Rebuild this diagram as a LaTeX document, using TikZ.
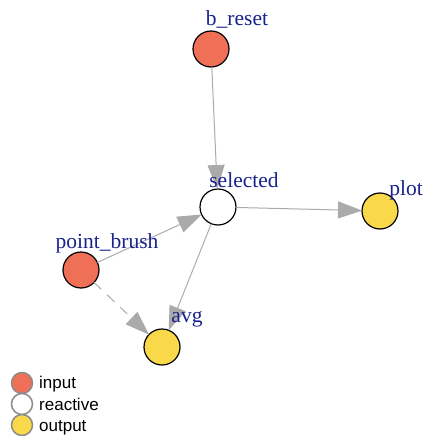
\documentclass[tikz,border=0pt]{standalone}
\usepackage{fontspec}
\setmainfont{Liberation Serif}
\setsansfont{Liberation Sans}
\usetikzlibrary{arrows.meta, positioning}
\definecolor{InputRed}{HTML}{EF6F57}
\definecolor{OutputGold}{HTML}{F9D84A}
\definecolor{LabelBlue}{RGB}{24, 34, 140}
\definecolor{EdgeGray}{HTML}{AAAAAA}

\begin{document}
\begin{tikzpicture}[x=1pt, y=-1pt,
    vtx/.style={circle, draw=black, line width=1.2pt, minimum size=36pt, inner sep=0pt, outer sep=0pt},
    lbl/.style={anchor=base, font=\fontsize{21.5}{21.5}\selectfont, text=LabelBlue, inner sep=0pt},
    edge/.style={draw=EdgeGray, line width=1pt, -{Triangle[length=24pt, width=17pt]}},
    key/.style={circle, draw=gray!90, line width=1.5pt, minimum size=21pt, inner sep=0pt},
    keytext/.style={anchor=base west, font=\sffamily\fontsize{17}{17}\selectfont, inner sep=0pt}]
    \useasboundingbox (0,0) rectangle (426,436);

    % 1. Vertices
    \node[vtx, fill=InputRed] (b_reset) at (211, 49) {};
    \node[vtx, fill=white] (selected) at (218, 207) {};
    \node[vtx, fill=OutputGold] (plot) at (380, 211) {};
    \node[vtx, fill=InputRed] (point_brush) at (81, 270) {};
    \node[vtx, fill=OutputGold] (avg) at (162, 347) {};

    % 2. Edges
    \draw[edge] (b_reset) -- (selected);
    \draw[edge] (selected) -- (plot);
    \draw[edge] (point_brush) -- (selected);
    \draw[edge] (selected) -- (avg);
    \draw[edge, dash pattern=on 10pt off 8pt] (point_brush) -- (avg);

    % 3. Vertex labels
    \node[lbl] (b_reset-lbl) at (237, 26) {b\_reset};
    \node[lbl] (selected-lbl) at (244, 187) {selected};
    \node[lbl] (plot-lbl) at (406, 195) {plot};
    \node[lbl] (point_brush-lbl) at (107, 248) {point\_brush};
    \node[lbl] (avg-lbl) at (187, 322) {avg};

    % 4. Legend
    \node[key, fill=InputRed] (key-input) at (22, 383) {};
    \node[key, fill=white] (key-reactive) at (22, 404) {};
    \node[key, fill=OutputGold] (key-output) at (22, 425) {};
    \node[keytext] (key-input-txt) at (39, 388) {input};
    \node[keytext] (key-reactive-txt) at (39, 410) {reactive};
    \node[keytext] (key-output-txt) at (39, 431) {output};
\end{tikzpicture}
\end{document}
